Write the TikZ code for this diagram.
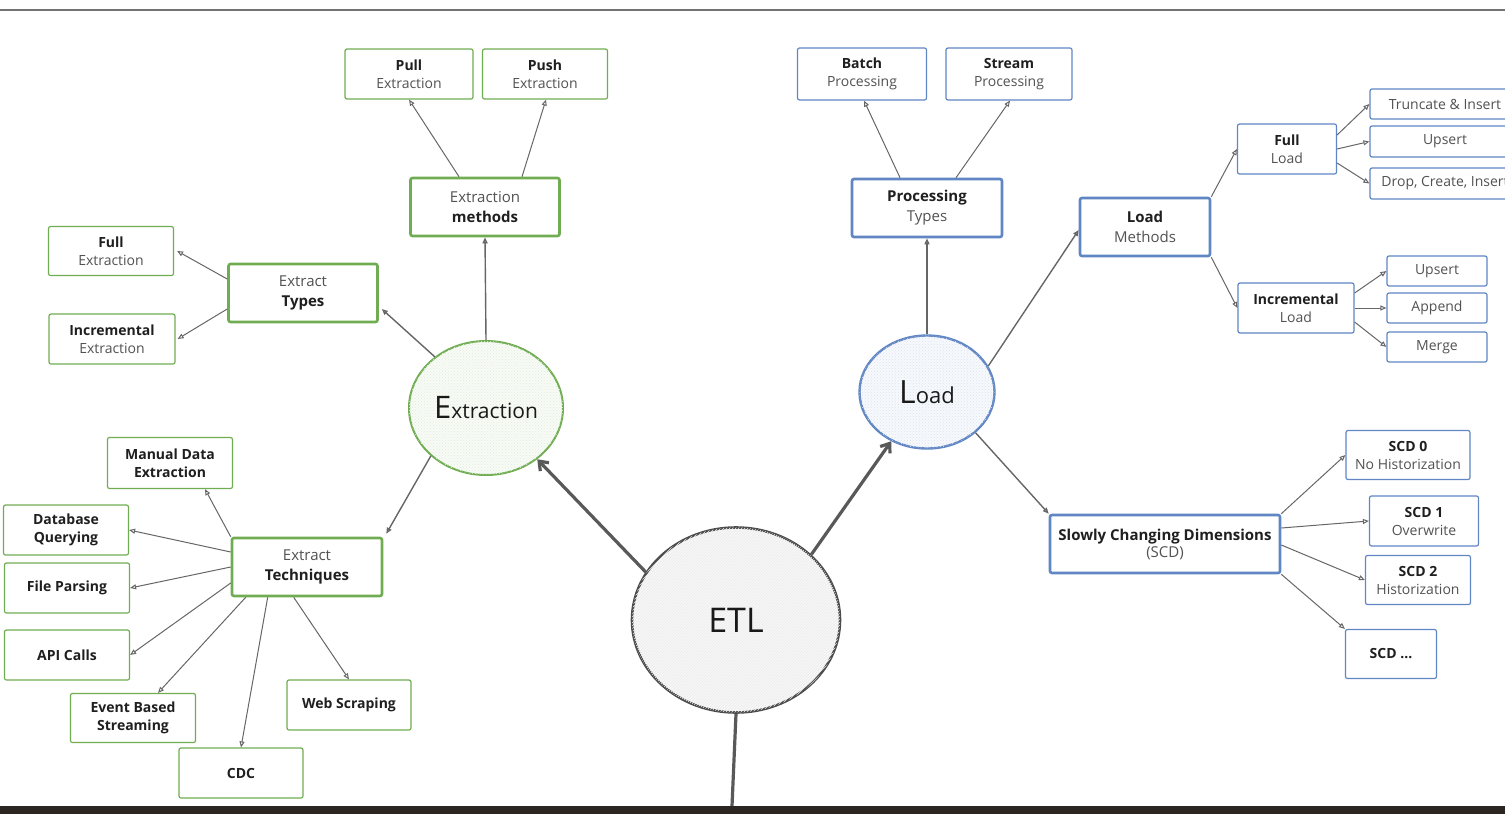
\documentclass[tikz,border=0pt]{standalone}
\usepackage{fontspec}
\setmainfont{Open Sans}
\usetikzlibrary{arrows.meta,shapes.geometric,patterns}
\definecolor{gE}{RGB}{112,173,82}
\definecolor{bE}{RGB}{96,134,196}
\definecolor{barc}{RGB}{43,38,33}
\newcommand\lt[1]{\textcolor{black!68}{#1}}
\begin{document}
\begin{tikzpicture}[x=1pt,y=-1pt,
  box/.style={rectangle, rounded corners=2pt, line width=1.2pt, align=center, inner sep=0pt, fill=white,
    font=\fontsize{14}{18}\selectfont, text=black!88},
  gbox/.style={box, draw=gE},
  bbox/.style={box, draw=bE},
  tbox/.style={line width=2.6pt, font=\fontsize{15}{20}\selectfont},
  conn/.style={draw=black!60, line width=1pt, -{Triangle[open,length=6pt,width=5pt]}},
  big/.style={draw=black!65, line width=3.2pt, -{Straight Barb[length=8pt,width=12pt]}},
  circ/.style={ellipse, inner sep=0pt, text=black!90}
]
\useasboundingbox (0,0) rectangle (1505,814);
\clip (0,0) rectangle (1505,814);
\draw[black!55, line width=1.5pt] (0,10) -- (1505,10);
\fill[barc] (0,806) rectangle (1505,814);

% circles
\node[circ, draw=black!70, line width=2.6pt, fill=black!3, minimum width=208, minimum height=185,
  postaction={pattern=north east lines, pattern color=black!8}, font=\fontsize{34}{34}\selectfont] (etl) at (736,620) {ETL};
\node[circ, draw=gE, line width=2pt, fill=gE!5, minimum width=154, minimum height=134,
  postaction={pattern=crosshatch dots, pattern color=gE!22}] (ext) at (486,408)
  {{\fontsize{31}{31}\selectfont E}{\fontsize{21}{21}\selectfont xtraction}};
\node[circ, draw=bE, line width=2.4pt, fill=bE!5, minimum width=135, minimum height=113,
  postaction={pattern=crosshatch dots, pattern color=bE!22}] (load) at (927,392)
  {{\fontsize{32}{32}\selectfont L}{\fontsize{22}{22}\selectfont oad}};

% extraction side
\node[gbox, minimum width=128, minimum height=50] (pull) at (409,74) {\textbf{Pull}\\\lt{Extraction}};
\node[gbox, minimum width=125, minimum height=50] (push) at (545,74) {\textbf{Push}\\\lt{Extraction}};
\node[gbox, tbox, minimum width=149, minimum height=58] (em) at (485,207) {\lt{Extraction}\\\textbf{methods}};
\node[gbox, minimum width=125, minimum height=49] (fe) at (111,251) {\textbf{Full}\\\lt{Extraction}};
\node[gbox, minimum width=126, minimum height=50] (ie) at (112,339) {\textbf{Incremental}\\\lt{Extraction}};
\node[gbox, tbox, minimum width=149, minimum height=58] (et) at (303,293) {\lt{Extract}\\\textbf{Types}};
\node[gbox, tbox, minimum width=150, minimum height=58] (tech) at (307,567) {\lt{Extract}\\\textbf{Techniques}};
\node[gbox, minimum width=125, minimum height=51] (man) at (170,463) {\textbf{Manual Data}\\\textbf{Extraction}};
\node[gbox, minimum width=125, minimum height=50] (db) at (66,530) {\textbf{Database}\\\textbf{Querying}};
\node[gbox, minimum width=125, minimum height=50] (fp) at (67,588) {\textbf{File Parsing}};
\node[gbox, minimum width=125, minimum height=50] (api) at (67,655) {\textbf{API Calls}};
\node[gbox, minimum width=125, minimum height=49] (ev) at (133,718) {\textbf{Event Based}\\\textbf{Streaming}};
\node[gbox, minimum width=124, minimum height=50] (cdc) at (241,773) {\textbf{CDC}};
\node[gbox, minimum width=124, minimum height=50] (web) at (349,705) {\textbf{Web Scraping}};

% load side
\node[bbox, minimum width=129, minimum height=52] (batch) at (862,74) {\textbf{Batch}\\\lt{Processing}};
\node[bbox, minimum width=126, minimum height=52] (stream) at (1009,74) {\textbf{Stream}\\\lt{Processing}};
\node[bbox, tbox, minimum width=150, minimum height=58] (pt) at (927,208) {\textbf{Processing}\\\lt{Types}};
\node[bbox, tbox, minimum width=130, minimum height=58] (lm) at (1145,227) {\textbf{Load}\\\lt{Methods}};
\node[bbox, minimum width=99, minimum height=50] (fl) at (1287,149) {\textbf{Full}\\\lt{Load}};
\node[bbox, minimum width=150, minimum height=30] (tr) at (1445,104) {\lt{Truncate \& Insert}};
\node[bbox, minimum width=150, minimum height=31] (up1) at (1445,141.5) {\lt{Upsert}};
\node[bbox, minimum width=150, minimum height=31] (dr) at (1445,183.5) {\lt{Drop, Create, Insert}};
\node[bbox, minimum width=116, minimum height=50] (il) at (1296,308) {\textbf{Incremental}\\\lt{Load}};
\node[bbox, minimum width=100, minimum height=30] (up2) at (1437,271) {\lt{Upsert}};
\node[bbox, minimum width=100, minimum height=30] (app) at (1437,308) {\lt{Append}};
\node[bbox, minimum width=100, minimum height=30] (mer) at (1437,347) {\lt{Merge}};
\node[bbox, tbox, minimum width=230, minimum height=58] (scd) at (1165,544) {\textbf{Slowly Changing Dimensions}\\[-3pt]\lt{(SCD)}};
\node[bbox, minimum width=124, minimum height=49] (s0) at (1408,455) {\textbf{SCD 0}\\\lt{No Historization}};
\node[bbox, minimum width=109, minimum height=50] (s1) at (1424,521) {\textbf{SCD 1}\\\lt{Overwrite}};
\node[bbox, minimum width=105, minimum height=49] (s2) at (1418,580) {\textbf{SCD 2}\\\lt{Historization}};
\node[bbox, minimum width=91, minimum height=49] (sx) at (1391,654) {\textbf{SCD ...}};

% main connectors
\draw[big] (etl.152) -- (ext.315);
\draw[big] (etl.41) -- (load.234);
\coordinate (etlout) at (732,806);
\draw[draw=black!65, line width=3.2pt] (etl.south) -- (etlout);

% extraction connectors
\draw[conn, line width=1.4pt] (ext.north) -- (em.south);
\draw[conn] ([xshift=-26pt]em.north) -- (pull.south);
\draw[conn] ([xshift=37pt]em.north) -- ([xshift=1pt]push.south);
\draw[conn, line width=1.4pt] (ext.135) -- ([xshift=3pt,yshift=-16pt]et.east);
\draw[conn] ([yshift=14pt]et.west) -- ([xshift=3pt]fe.east);
\draw[conn] ([yshift=-16pt]et.west) -- ([xshift=2pt]ie.east);
\draw[conn, line width=1.4pt] (ext.221) -- ([xshift=3pt,yshift=3pt]tech.north east);
\draw[conn] (tech.north west) -- ([xshift=35pt]man.south);
\draw[conn] ([yshift=15pt]tech.west) -- (db.east);
\draw[conn] (tech.west) -- (fp.east);
\draw[conn] ([yshift=-16pt]tech.west) -- (api.east);
\draw[conn] ([xshift=15pt]tech.south west) -- ([xshift=25pt]ev.north);
\draw[conn] ([xshift=37pt]tech.south west) -- (cdc.north);
\draw[conn] ([xshift=63pt]tech.south west) -- (web.north);

% load connectors
\draw[conn, line width=1.4pt] (load.north) -- (pt.south);
\draw[conn] ([xshift=-27pt]pt.north) -- ([xshift=2pt]batch.south);
\draw[conn] ([xshift=29pt]pt.north) -- ([xshift=1pt]stream.south);
\draw[conn, line width=1.4pt] (load.23) -- ([yshift=-3pt]lm.west);
\draw[conn, line width=1.4pt] (load.320) -- (scd.north west);
\draw[conn] (lm.north east) -- (fl.west);
\draw[conn] (lm.south east) -- (il.west);
\draw[conn] ([yshift=14pt]fl.east) -- (tr.west);
\draw[conn] (fl.east) -- (up1.west);
\draw[conn] ([yshift=-14pt]fl.east) -- (dr.west);
\draw[conn] ([yshift=15pt]il.east) -- (up2.west);
\draw[conn] (il.east) -- (app.west);
\draw[conn] ([yshift=-14pt]il.east) -- (mer.west);
\draw[conn] (scd.north east) -- (s0.west);
\draw[conn] ([yshift=16pt]scd.east) -- (s1.west);
\draw[conn] ([yshift=-1pt]scd.east) -- (s2.west);
\draw[conn] (scd.south east) -- (sx.north west);
\end{tikzpicture}
\end{document}
